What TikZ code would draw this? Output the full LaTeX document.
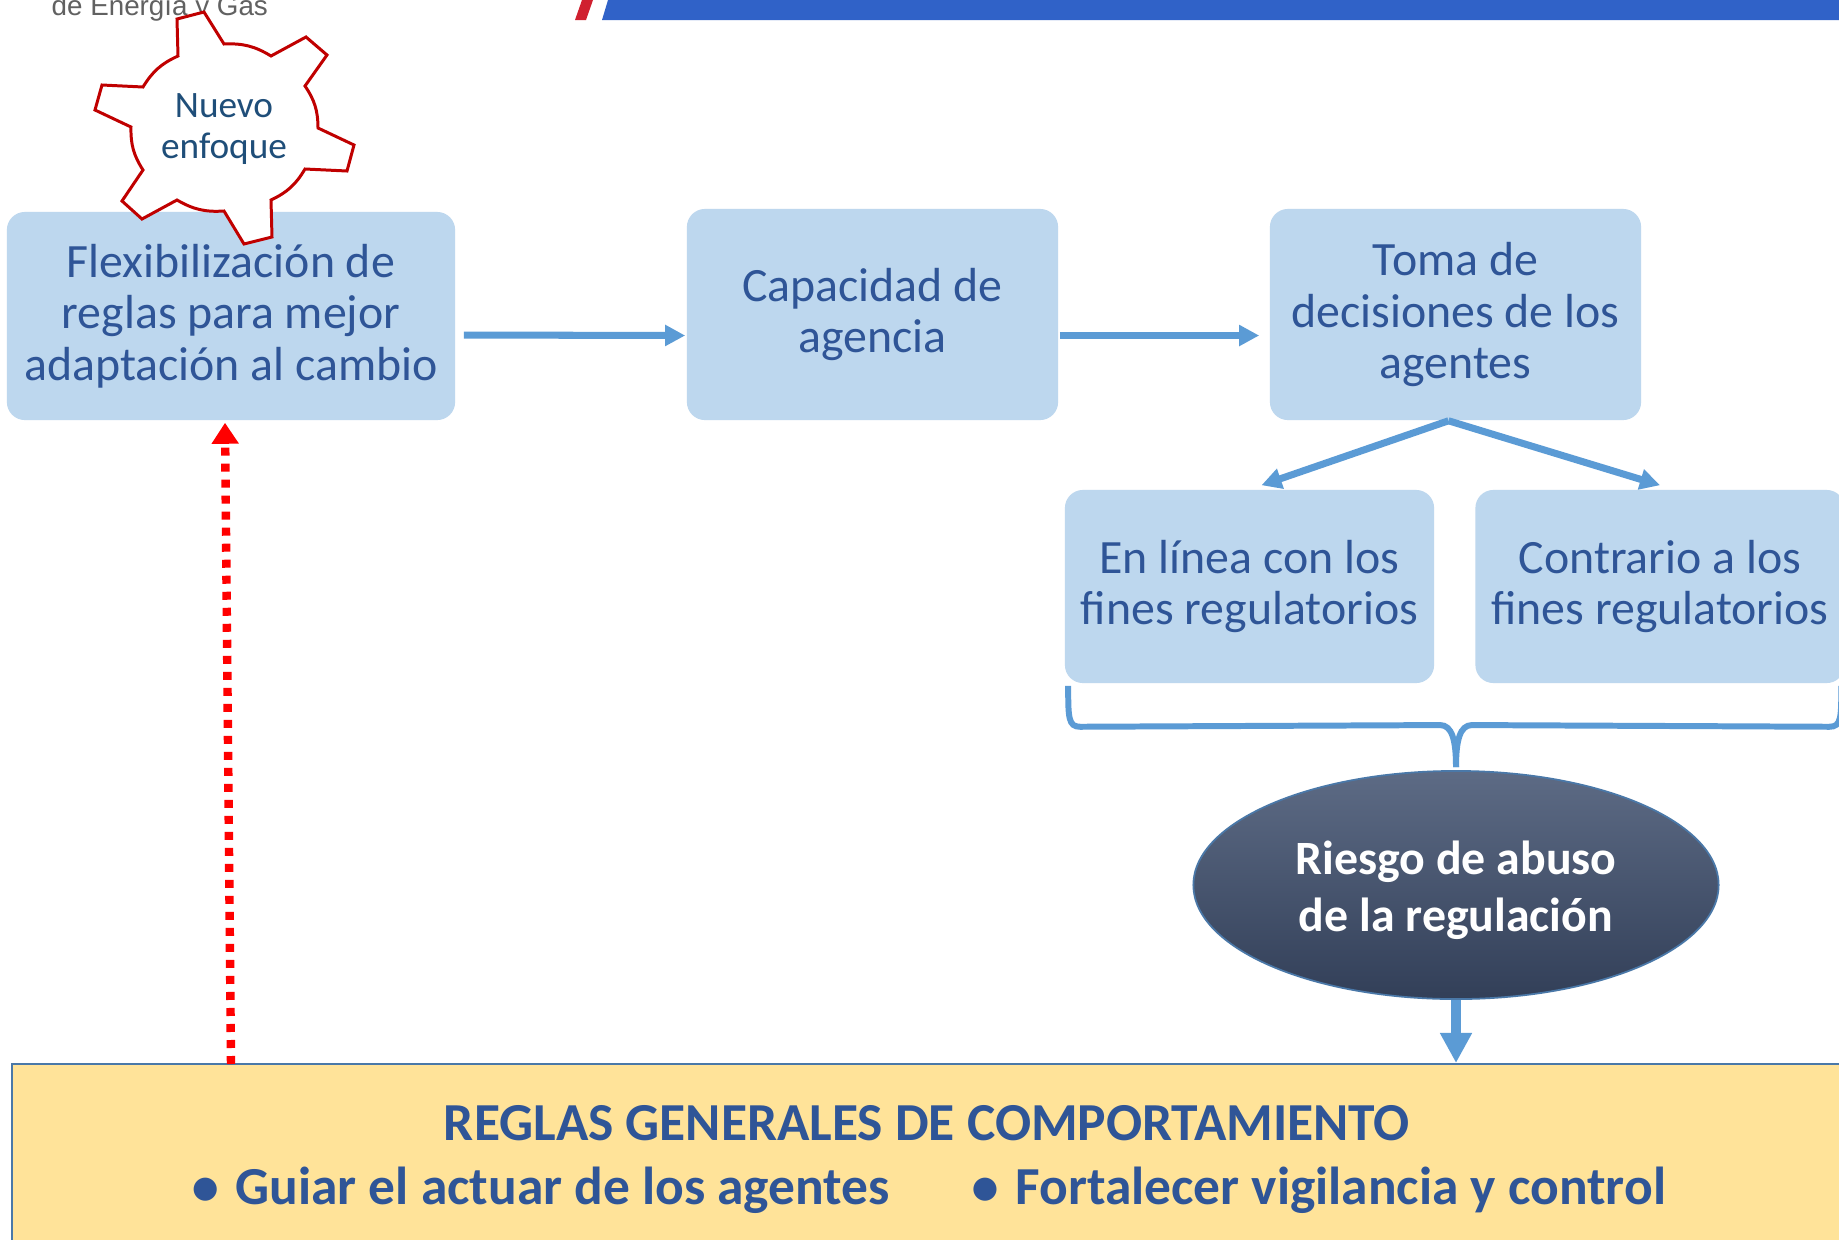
\documentclass[tikz,border=0pt]{standalone}
\usepackage{fontspec}
\setmainfont{Carlito}
\newfontfamily\headfont{Liberation Sans}
\newfontfamily\dotfont{DejaVu Sans}
\usetikzlibrary{arrows.meta}
\usetikzlibrary{shapes.geometric,positioning,calc}
\definecolor{boxblue}{HTML}{BDD7EE}
\definecolor{textblue}{HTML}{2F5597}
\definecolor{gearblue}{HTML}{1F4E79}
\definecolor{flowblue}{HTML}{5B9BD5}
\definecolor{gearred}{HTML}{C00000}
\definecolor{ruleyellow}{HTML}{FFE399}
\definecolor{ruleborder}{HTML}{4A78A8}
\definecolor{barblue}{HTML}{3062C8}
\definecolor{barred}{HTML}{D0202F}
\definecolor{riskTop}{HTML}{5D6B85}
\definecolor{riskBottom}{HTML}{323F58}
\newcommand{\reglaDot}{\raisebox{0.07cm}{\dotfont\fontsize{8.6}{12}\selectfont ●}\hspace{0.17cm}}
\tikzset{
  stepbox/.style={fill=boxblue, rounded corners=0.18cm, align=center, text=textblue, inner sep=0pt,
    font=\fontsize{13.6}{14.7}\selectfont},
  flow/.style={draw=flowblue, line width=2pt, -{Triangle[length=0.2cm,width=0.2cm]}},
  bullettext/.style={text=textblue, font=\fontsize{15.2}{17}\selectfont\bfseries, inner sep=0pt},
}
\begin{document}
\begin{tikzpicture}[x=0.01cm, y=-0.01cm]
  \clip (0,0) rectangle (1839,1239);
  \fill[white] (0,0) rectangle (1839,1239);
  % cabecera
  \node[anchor=base west, inner sep=0pt, text=black!62, font=\fontsize{7.9}{10}\headfont] (head) at (51,15) {de Energía y Gas};
  \fill[barred] (575,20) -- (586,20) -- (593,0) -- (582,0) -- cycle;
  \fill[barblue] (602,20) -- (608,0) -- (1839,0) -- (1839,20) -- cycle;
  % cajas
  \node[stepbox, minimum width=4.48cm, minimum height=2.08cm] (flex) at (231,316) {Flexibilización de\\reglas para mejor\\adaptación al cambio};
  \node[stepbox, minimum width=3.71cm, minimum height=2.11cm] (agencia) at (872.5,314.5) {Capacidad de\\agencia};
  \node[stepbox, minimum width=3.71cm, minimum height=2.11cm] (toma) at (1455.5,314.5) {Toma de\\decisiones de los\\agentes};
  \node[stepbox, minimum width=3.69cm, minimum height=1.93cm] (linea) at (1249.5,586.5) {En línea con los\\fines regulatorios};
  \node[stepbox, minimum width=3.69cm, minimum height=1.93cm] (contrario) at (1660,586.5) {Contrario a los\\fines regulatorios};
  % engranaje
  \draw[gearred, line width=0.85pt, fill=white, line join=miter]
    (204,12) -- (224,44) to[bend left=17] (271,56) -- (306,37) -- (327,55) -- (305,86)
    to[bend left=17] (318,128) -- (354,145) -- (347,171) -- (305,169)
    to[bend left=17] (271,200) -- (272,237) -- (244,244) -- (224,211)
    to[bend left=17] (177,200) -- (142,219) -- (122,201) -- (143,170)
    to[bend left=17] (131,127) -- (95,110) -- (102,85) -- (143,87)
    to[bend left=17] (178,56) -- (177,19) -- cycle;
  \node[align=center, text=gearblue, inner sep=0pt, font=\fontsize{10.6}{11.4}\selectfont] (gear) at (224,129) {Nuevo\\enfoque};
  % riesgo y reglas
  \node[ellipse, draw=ruleborder, line width=0.5pt, top color=riskTop, bottom color=riskBottom,
    minimum width=5.25cm, minimum height=2.28cm, align=center, text=white, inner sep=0pt,
    font=\fontsize{13.6}{16.3}\selectfont\bfseries] (riesgo) at (1456,885) {\rule{0pt}{0.44cm}Riesgo de abuso\\de la regulación};
  \node[draw=ruleborder, line width=0.55pt, fill=ruleyellow, anchor=north west, minimum width=19cm, minimum height=3cm] (reglas) at (11,1063) {};
  \node[bullettext] (titulo) at (927,1123) {REGLAS GENERALES DE COMPORTAMIENTO};
  \node[bullettext] (guiar) at (541,1190) {\reglaDot Guiar el actuar de los agentes};
  \node[bullettext] (fortalecer) at (1319,1190) {\reglaDot Fortalecer vigilancia y control};
  % flechas
  \draw[flow] ([xshift=0.08cm,yshift=-0.19cm]flex.east) -- ([xshift=-0.01cm,yshift=-0.21cm]agencia.west);
  \draw[flow] ([xshift=0.01cm,yshift=-0.21cm]agencia.east) -- ([xshift=-0.1cm,yshift=-0.21cm]toma.west);
  \draw[flow] ([xshift=-0.07cm]toma.south) -- ([xshift=0.12cm,yshift=0.04cm]linea.north);
  \draw[flow] ([xshift=-0.07cm]toma.south) -- ([yshift=0.04cm]contrario.north);
  % llave
  \coordinate (braceL) at ([xshift=0.04cm,yshift=-0.02cm]linea.south west);
  \coordinate (braceR) at ([xshift=-0.04cm,yshift=-0.02cm]contrario.south east);
  \draw[flowblue, line width=1.7pt] (braceL) .. controls ($(braceL)+(0,32)$) and ($(braceL)+(0,41)$) .. ($(braceL)+(12,41)$)
    -- ($(riesgo.north)+(-16,-45)$) .. controls ($(riesgo.north)+(-4,-45)$) and ($(riesgo.north)+(0,-30)$) .. ($(riesgo.north)+(0,-3)$);
  \draw[flowblue, line width=1.7pt] (braceR) .. controls ($(braceR)+(0,32)$) and ($(braceR)+(0,41)$) .. ($(braceR)+(-12,41)$)
    -- ($(riesgo.north)+(16,-45)$) .. controls ($(riesgo.north)+(4,-45)$) and ($(riesgo.north)+(0,-30)$) .. ($(riesgo.north)+(0,-3)$);
  \draw[flowblue, line width=2.6pt, -{Triangle[length=0.3cm,width=0.3cm]}] (riesgo.south) -- (riesgo.south |- reglas.north);
  % retroalimentacion
  \coordinate (baseRed) at (231,1064);
  \draw[red, line width=2.4pt, dash pattern=on 0.08cm off 0.08cm, -{Triangle[length=0.21cm,width=0.26cm]}] (baseRed) -- ([xshift=-0.06cm,yshift=-0.02cm]flex.south);
\end{tikzpicture}
\end{document}
